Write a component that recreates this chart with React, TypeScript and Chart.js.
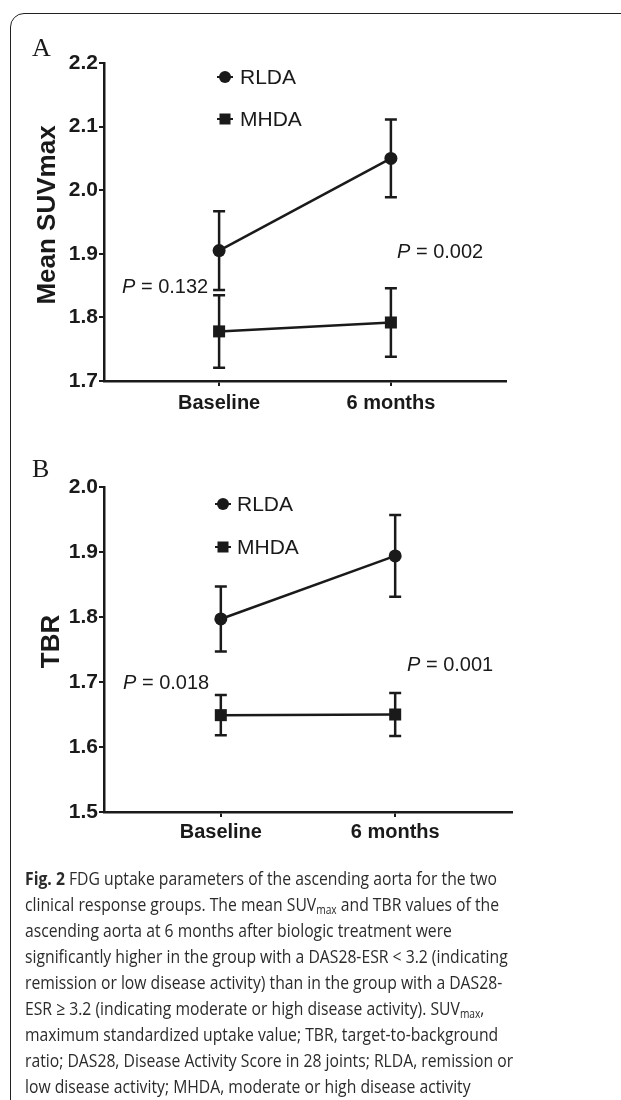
import React, { useEffect, useRef } from 'react';
import { Chart, registerables } from 'chart.js';

Chart.register(...registerables);

// ---------- data ----------
const categories = ['Baseline', '6 months'];
const seriesNames = ['RLDA', 'MHDA'];

const suvRLDA = [1.905, 2.05];
const suvRLDAErr = [0.062, 0.061];
const suvMHDA = [1.778, 1.792];
const suvMHDAErr = [0.057, 0.054];
const suvTicks = [1.7, 1.8, 1.9, 2.0, 2.1, 2.2];
const suvPValues = ['0.132', '0.002'];

const tbrRLDA = [1.797, 1.894];
const tbrRLDAErr = [0.05, 0.063];
const tbrMHDA = [1.649, 1.65];
const tbrMHDAErr = [0.031, 0.033];
const tbrTicks = [1.5, 1.6, 1.7, 1.8, 1.9, 2.0];
const tbrPValues = ['0.018', '0.001'];

// ---------- styling ----------
const INK = '#1a1a1a';
const SANS = '"Liberation Sans", Arial, Helvetica, sans-serif';

const errorBarsPlugin = {
  id: 'errorBars',
  afterDatasetsDraw(chart: any) {
    const { ctx } = chart;
    const yScale = chart.scales.y;
    chart.data.datasets.forEach((ds: any, di: number) => {
      const meta = chart.getDatasetMeta(di);
      if (!ds.errors) return;
      meta.data.forEach((pt: any, i: number) => {
        const v = ds.data[i].y;
        const e = ds.errors[i];
        const yTop = yScale.getPixelForValue(v + e);
        const yBot = yScale.getPixelForValue(v - e);
        const x = pt.x;
        ctx.save();
        ctx.strokeStyle = INK;
        ctx.lineWidth = 2.5;
        ctx.beginPath();
        ctx.moveTo(x, yTop);
        ctx.lineTo(x, yBot);
        ctx.moveTo(x - 6, yTop);
        ctx.lineTo(x + 6, yTop);
        ctx.moveTo(x - 6, yBot);
        ctx.lineTo(x + 6, yBot);
        ctx.stroke();
        ctx.restore();
      });
    });
  },
};

const overlayPlugin = {
  id: 'overlay',
  afterDraw(chart: any, _args: any, opts: any) {
    const { ctx, chartArea } = chart;
    ctx.save();
    ctx.fillStyle = INK;
    ctx.strokeStyle = INK;
    ctx.textBaseline = 'middle';
    ctx.textAlign = 'left';
    // legend
    chart.data.datasets.forEach((ds: any, i: number) => {
      const x = chartArea.left + opts.markerDx;
      const y = chartArea.top + opts.rowDy[i];
      ctx.lineWidth = 2;
      ctx.beginPath();
      ctx.moveTo(x - 8, y);
      ctx.lineTo(x + 8, y);
      ctx.stroke();
      if (ds.pointStyle === 'circle') {
        ctx.beginPath();
        ctx.arc(x, y, 6, 0, Math.PI * 2);
        ctx.fill();
      } else {
        ctx.fillRect(x - 5.5, y - 5.5, 11, 11);
      }
      ctx.font = `21px ${SANS}`;
      ctx.fillText(ds.label, chartArea.left + opts.textDx, y + 1);
    });
    // p-values
    opts.pLabels.forEach((p: any) => {
      const x = chartArea.left + p.dx;
      const y = chartArea.top + p.dy;
      ctx.font = `italic 20px ${SANS}`;
      ctx.fillText('P', x, y);
      const w = ctx.measureText('P').width;
      ctx.font = `20px ${SANS}`;
      ctx.fillText(' = ' + p.value, x + w, y);
    });
    // y-axis title
    ctx.translate(opts.titleX, (chartArea.top + chartArea.bottom) / 2 + opts.titleDy);
    ctx.rotate(-Math.PI / 2);
    ctx.textAlign = 'center';
    ctx.font = `bold 26px ${SANS}`;
    ctx.fillText(opts.yTitle, 0, 0);
    ctx.restore();
  },
};

function makeConfig(p: any) {
  const mk = (label: string, vals: number[], errs: number[], style: string, r: number) => ({
    label,
    data: vals.map((v, i) => ({ x: i, y: v })),
    errors: errs,
    borderColor: INK,
    backgroundColor: INK,
    borderWidth: 2.5,
    pointStyle: style,
    pointRadius: r,
    pointBorderWidth: 0,
    pointBackgroundColor: INK,
    tension: 0,
  });
  return {
    type: 'line',
    data: {
      datasets: [
        mk(seriesNames[0], p.rlda, p.rldaErr, 'circle', 6.5),
        mk(seriesNames[1], p.mhda, p.mhdaErr, 'rect', 8.5),
      ],
    },
    plugins: [errorBarsPlugin, overlayPlugin],
    options: {
      responsive: false,
      animation: false,
      events: [],
      layout: { padding: { top: p.padTop, right: p.padRight, left: 0, bottom: 0 } },
      scales: {
        x: {
          type: 'linear',
          min: -0.67,
          max: 1.67,
          afterBuildTicks: (s: any) => {
            s.ticks = categories.map((_, i) => ({ value: i }));
          },
          afterFit: (s: any) => {
            s.height = p.xHeight;
          },
          ticks: {
            callback: (v: any) => categories[v] ?? '',
            font: { family: SANS, weight: 'bold', size: 20 },
            color: INK,
            padding: p.xTickPad,
            autoSkip: false,
            maxRotation: 0,
          },
          grid: { drawOnChartArea: false, drawTicks: true, tickLength: 5, color: INK, lineWidth: 2 },
          border: { display: true, color: INK, width: 2.5 },
        },
        y: {
          type: 'linear',
          min: p.ticks[0],
          max: p.ticks[p.ticks.length - 1],
          afterBuildTicks: (s: any) => {
            s.ticks = p.ticks.map((v: number) => ({ value: v }));
          },
          afterFit: (s: any) => {
            s.width = 104;
          },
          ticks: {
            callback: (v: any) => Number(v).toFixed(1),
            font: { family: SANS, weight: 'bold', size: 21 },
            color: INK,
            padding: 1,
          },
          grid: { drawOnChartArea: false, drawTicks: true, tickLength: 5, color: INK, lineWidth: 2 },
          border: { display: true, color: INK, width: 2.5 },
          title: { display: false },
        },
      },
      plugins: {
        legend: { display: false },
        tooltip: { enabled: false },
        overlay: {
          markerDx: p.markerDx,
          textDx: p.textDx,
          rowDy: p.rowDy,
          pLabels: p.pLabels,
          yTitle: p.yTitle,
          titleX: p.titleX,
          titleDy: p.titleDy,
        },
      },
    },
  };
}

function Panel({ top, height, params }: { top: number; height: number; params: any }) {
  const ref = useRef<HTMLCanvasElement | null>(null);
  useEffect(() => {
    if (!ref.current) return;
    const chart = new Chart(ref.current, makeConfig(params) as any);
    return () => chart.destroy();
  }, []);
  return (
    <canvas
      ref={ref}
      width={621}
      height={height}
      style={{ position: 'absolute', left: 0, top, width: 621, height }}
    />
  );
}

const panelA = {
  rlda: suvRLDA,
  rldaErr: suvRLDAErr,
  mhda: suvMHDA,
  mhdaErr: suvMHDAErr,
  ticks: suvTicks,
  yTitle: 'Mean SUVmax',
  padTop: 63,
  padRight: 115,
  xHeight: 49,
  xTickPad: 5,
  titleX: 48,
  titleDy: -7,
  markerDx: 121,
  textDx: 136,
  rowDy: [14, 56],
  pLabels: [
    { dx: 18, dy: 224, value: suvPValues[0] },
    { dx: 293, dy: 189, value: suvPValues[1] },
  ],
};

const panelB = {
  rlda: tbrRLDA,
  rldaErr: tbrRLDAErr,
  mhda: tbrMHDA,
  mhdaErr: tbrMHDAErr,
  ticks: tbrTicks,
  yTitle: 'TBR',
  padTop: 57,
  padRight: 109,
  xHeight: 58,
  xTickPad: 3,
  titleX: 52,
  titleDy: -8,
  markerDx: 119,
  textDx: 133,
  rowDy: [17, 60],
  pLabels: [
    { dx: 19, dy: 196, value: tbrPValues[0] },
    { dx: 303, dy: 178, value: tbrPValues[1] },
  ],
};

export default function App() {
  const sub: React.CSSProperties = { fontSize: '12px', verticalAlign: '-3px', lineHeight: 0 };
  return (
    <div style={{ position: 'absolute', left: 0, top: 0, width: 621, height: 1100, overflow: 'hidden', background: '#fff' }}>
      <div
        style={{
          position: 'absolute',
          left: 10,
          top: 13,
          width: 660,
          height: 1120,
          border: '1.6px solid #222',
          borderRadius: 14,
          boxSizing: 'border-box',
        }}
      />
      <Panel top={0} height={430} params={panelA} />
      <Panel top={430} height={440} params={panelB} />
      <div style={{ position: 'absolute', left: 32, top: 35, font: '26px "Liberation Serif", "Times New Roman", serif', lineHeight: '26px', color: INK }}>A</div>
      <div style={{ position: 'absolute', left: 32, top: 456, font: '26px "Liberation Serif", "Times New Roman", serif', lineHeight: '26px', color: INK }}>B</div>
      <div
        style={{
          position: 'absolute',
          left: 25,
          top: 865,
          fontFamily: '"Open Sans", "Noto Sans", sans-serif',
          fontSize: '18.5px',
          lineHeight: '26px',
          color: '#2b2b2b',
          whiteSpace: 'nowrap',
          transform: 'scaleX(0.85)',
          transformOrigin: 'left top',
        }}
      >
        <b>Fig. 2</b> FDG uptake parameters of the ascending aorta for the two
        <br />
        clinical response groups. The mean SUV<span style={sub}>max</span> and TBR values of the
        <br />
        ascending aorta at 6 months after biologic treatment were
        <br />
        significantly higher in the group with a DAS28-ESR &lt; 3.2 (indicating
        <br />
        remission or low disease activity) than in the group with a DAS28-
        <br />
        ESR ≥ 3.2 (indicating moderate or high disease activity). SUV<span style={sub}>max</span>,
        <br />
        maximum standardized uptake value; TBR, target-to-background
        <br />
        ratio; DAS28, Disease Activity Score in 28 joints; RLDA, remission or
        <br />
        low disease activity; MHDA, moderate or high disease activity
      </div>
    </div>
  );
}
